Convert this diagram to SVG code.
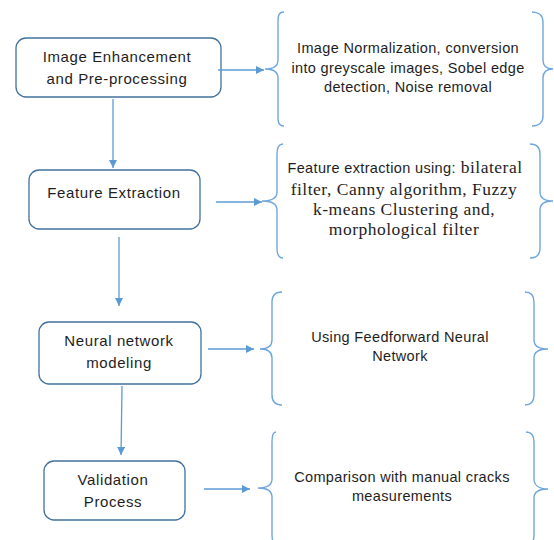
<svg xmlns="http://www.w3.org/2000/svg" width="554" height="540" viewBox="0 0 554 540">
  <style>
    .box { fill: #ffffff; stroke: #41719c; stroke-width: 1.3; }
    .lbl { font-family: "Liberation Sans", Arial, sans-serif; font-size: 15px; letter-spacing: 0.6px; fill: #1e1e1e; text-anchor: middle; }
    .desc { font-family: "Liberation Sans", Arial, sans-serif; font-size: 14.5px; letter-spacing: 0.35px; fill: #1e1e1e; text-anchor: middle; }
    .serif { font-family: "Liberation Serif", "Times New Roman", serif; font-size: 17.5px; letter-spacing: 0.5px; }
    .brace { fill: none; stroke: #6fa6dc; stroke-width: 1.4; }
    .conn { fill: none; stroke: #5b9bd5; stroke-width: 1.3; }
  </style>
  <defs>
    <marker id="arrow" viewBox="0 0 10 10" refX="10" refY="5" markerWidth="8" markerHeight="8" markerUnits="userSpaceOnUse" orient="auto">
      <path d="M0,0 L10,5 L0,10 Z" fill="#5b9bd5"/>
    </marker>
  </defs>
  <rect width="554" height="540" fill="#ffffff"/>

  <!-- process steps -->
  <g id="step-enhancement">
    <rect class="box" x="16" y="38" width="205" height="59" rx="10"/>
    <text class="lbl" x="117" y="62">Image Enhancement</text>
    <text class="lbl" x="117" y="84">and Pre-processing</text>
  </g>
  <g id="step-features">
    <rect class="box" x="29" y="170" width="171" height="59" rx="10"/>
    <text class="lbl" x="114" y="198">Feature Extraction</text>
  </g>
  <g id="step-network">
    <rect class="box" x="39" y="322" width="162" height="62" rx="10"/>
    <text class="lbl" x="119" y="346">Neural network</text>
    <text class="lbl" x="119" y="368">modeling</text>
  </g>
  <g id="step-validation">
    <rect class="box" x="44" y="461" width="141" height="59" rx="10"/>
    <text class="lbl" x="113" y="485">Validation</text>
    <text class="lbl" x="113" y="507">Process</text>
  </g>

  <!-- descriptions in braces -->
  <g id="desc-enhancement">
    <path class="brace" d="M284,12 C279,12 278,15 278,22 L278,60 C278,66 274,69 265,69 C274,69 278,72 278,78 L278,116 C278,123 279,126 284,126"/>
    <path class="brace" d="M532,12 C538,12 543,15 543,22 L543,60 C543,66 547,69 553,69 C547,69 543,72 543,78 L543,116 C543,123 538,126 532,126"/>
    <text class="desc" x="408" y="53">Image Normalization, conversion</text>
    <text class="desc" x="408" y="73">into greyscale images, Sobel edge</text>
    <text class="desc" x="408" y="92">detection, Noise removal</text>
  </g>
  <g id="desc-features">
    <path class="brace" d="M283,144 C279,144 277,147 277,154 L277,192 C277,198 273,201 262,201 C273,201 277,204 277,210 L277,248 C277,255 279,258 283,258"/>
    <path class="brace" d="M530,144 C536,144 540,147 540,154 L540,192 C540,198 545,201 553,201 C545,201 540,204 540,210 L540,248 C540,255 536,258 530,258"/>
    <text class="desc" x="405" y="173">Feature extraction using:<tspan class="serif"> bilateral</tspan></text>
    <text class="desc serif" x="404" y="195">filter, Canny algorithm, Fuzzy</text>
    <text class="desc serif" x="404" y="215">k-means Clustering and,</text>
    <text class="desc serif" x="404" y="235">morphological filter</text>
  </g>
  <g id="desc-network">
    <path class="brace" d="M282,292 C276,292 272,295 272,302 L272,340 C272,346 268,349 260,349 C268,349 272,352 272,358 L272,395 C272,402 276,405 282,405"/>
    <path class="brace" d="M525,292 C531,292 534,295 534,302 L534,340 C534,346 539,349 548,349 C539,349 534,352 534,358 L534,395 C534,402 531,405 525,405"/>
    <text class="desc" x="400" y="342">Using Feedforward Neural</text>
    <text class="desc" x="400" y="361">Network</text>
  </g>
  <g id="desc-validation">
    <path class="brace" d="M276,432 C273,432 272,435 272,442 L272,479 C272,485 268,488 258,488 C268,488 272,491 272,497 L272,534 C272,541 273,544 276,544"/>
    <path class="brace" d="M526,432 C531,432 534,435 534,442 L534,479 C534,485 539,489 548,489 C539,489 534,492 534,498 L534,535 C534,542 531,545 526,545"/>
    <text class="desc" x="402" y="482">Comparison with manual cracks</text>
    <text class="desc" x="402" y="501">measurements</text>
  </g>

  <!-- connectors -->
  <g id="connectors">
    <line class="conn" x1="113" y1="99" x2="113" y2="168" marker-end="url(#arrow)"/>
    <line class="conn" x1="119" y1="237" x2="119" y2="306" marker-end="url(#arrow)"/>
    <line class="conn" x1="122" y1="386" x2="121" y2="455" marker-end="url(#arrow)"/>
    <line class="conn" x1="218" y1="70" x2="264" y2="70" marker-end="url(#arrow)"/>
    <line class="conn" x1="216" y1="202" x2="262" y2="202" marker-end="url(#arrow)"/>
    <line class="conn" x1="208" y1="349" x2="254" y2="349" marker-end="url(#arrow)"/>
    <line class="conn" x1="204" y1="489" x2="250" y2="489" marker-end="url(#arrow)"/>
  </g>
</svg>
